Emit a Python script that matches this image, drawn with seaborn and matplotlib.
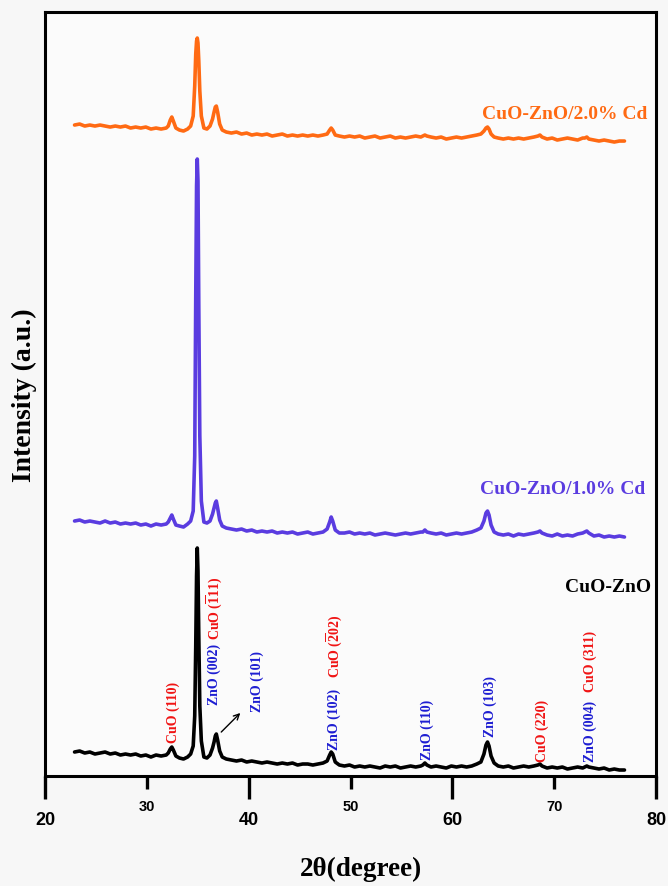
import numpy as np
import pandas as pd
import seaborn as sns
import matplotlib
matplotlib.use("Agg")
import matplotlib.pyplot as plt
import matplotlib.transforms as mtransforms

# 2theta grid shared by the three patterns
two_theta = [
    22.9, 23.4, 23.9, 24.4, 24.9, 25.4, 25.9, 26.4, 26.9, 27.4, 27.9, 28.4, 28.9, 29.4, 29.9, 30.4, 30.9, 31.4, 31.9,
    32.1, 32.3, 32.45, 32.6, 32.85, 33.2, 33.6, 34.0, 34.3, 34.55,
    34.7, 34.8, 34.88, 34.95, 35.02, 35.1, 35.2, 35.35, 35.6, 35.9, 36.2, 36.45,
    36.6, 36.72, 36.82, 36.95, 37.15, 37.4, 37.8,
    38.3, 38.8, 39.3, 39.8, 40.3, 40.8, 41.3, 41.8, 42.3, 42.8, 43.3, 43.8, 44.3, 44.8, 45.3, 45.8, 46.3, 46.8, 47.3,
    47.7, 47.95, 48.1, 48.25, 48.5, 48.9,
    49.4, 49.9, 50.4, 50.9, 51.4, 51.9, 52.4, 52.9, 53.4, 53.9, 54.4, 54.9, 55.4, 55.9, 56.4, 56.9,
    57.1, 57.3, 57.5,
    57.9, 58.4, 58.9, 59.4, 59.9, 60.4, 60.9, 61.4, 61.9, 62.4,
    62.8, 63.1, 63.3, 63.45, 63.6, 63.8, 64.1, 64.5,
    65.0, 65.5, 66.0, 66.5, 67.0, 67.5, 68.0,
    68.4, 68.6, 68.8,
    69.3, 69.8, 70.3, 70.8, 71.3, 71.8, 72.3, 72.8,
    73.0, 73.2, 73.4,
    73.9, 74.4, 74.9, 75.4, 75.9, 76.4, 76.9,
]

# CuO-ZnO
i_cuzn = [
    24, 25, 23, 24, 22, 23, 24, 22, 23, 21, 22, 21, 22, 20, 21, 19, 21, 20, 21,
    23, 27, 29, 26, 20, 18, 17, 19, 22, 30,
    60, 130, 200, 228, 205, 140, 70, 35, 19, 18, 21, 28,
    34, 40, 42, 36, 25, 19, 17,
    16, 15, 16, 14, 15, 14, 13, 14, 13, 12, 13, 12, 13, 11, 12, 12, 11, 12, 13,
    15, 21, 24, 22, 14, 11,
    10, 11, 9, 10, 9, 10, 9, 8, 10, 9, 10, 8, 9, 10, 9, 10,
    11, 13, 11,
    9, 10, 9, 8, 10, 9, 10, 9, 10, 12,
    14, 22, 31, 34, 30, 20, 13, 10,
    9, 10, 8, 9, 10, 9, 10,
    11, 12, 10,
    8, 9, 8, 9, 7, 8, 9, 8,
    9, 10, 9,
    8, 7, 8, 6, 7, 6, 6,
]

# CuO-ZnO/1.0% Cd
i_cd1 = [
    255, 256, 254, 255, 254, 253, 255, 253, 254, 252, 253, 252, 253, 251, 252, 250, 252, 251, 252,
    254, 258, 261, 257, 251, 250, 249, 252, 255, 265,
    320, 480, 590, 617, 595, 470, 340, 275, 254, 253, 255, 262,
    268, 273, 275, 268, 256, 250, 248,
    247, 246, 247, 245, 246, 244, 245, 244, 245, 243, 244, 243, 244, 242, 243, 244, 242, 243, 244,
    247, 254, 259, 255, 246, 243,
    243, 244, 242, 243, 242, 243, 241, 242, 243, 242, 241, 242, 243, 242, 243, 244,
    244, 246, 244,
    243, 242, 243, 241, 242, 243, 242, 243, 244, 246,
    248, 255, 263, 265, 261, 251, 244, 242,
    241, 242, 240, 242, 241, 242, 243,
    244, 245, 243,
    241, 240, 242, 240, 241, 240, 242, 243,
    244, 245, 243,
    240, 241, 239, 240, 239, 240, 239,
]

# CuO-ZnO/2.0% Cd
i_cd2 = [
    651, 652, 650, 651, 650, 651, 650, 649, 650, 649, 650, 648, 649, 648, 649, 647, 648, 647, 648,
    650, 656, 659, 655, 648, 646, 645, 647, 650, 660,
    690, 722, 735, 738, 733, 715, 685, 660, 648, 647, 650, 657,
    664, 669, 670, 664, 652, 646, 644,
    643, 644, 642, 643, 641, 642, 641, 642, 640, 641, 642, 640, 641, 640, 641, 640, 641, 640, 641,
    642, 646, 648, 646, 641, 640,
    639, 640, 639, 640, 638, 639, 640, 638, 639, 640, 638, 639, 638, 639, 640, 639,
    640, 641, 640,
    639, 638, 639, 637, 638, 639, 638, 639, 640, 641,
    642, 645, 648, 649, 647, 642, 639, 638,
    637, 638, 637, 638, 637, 638, 639,
    640, 641, 639,
    637, 638, 636, 637, 638, 637, 636, 638,
    638, 639, 637,
    636, 635, 636, 635, 634, 635, 635,
]

samples = ["CuO-ZnO", "CuO-ZnO/1.0% Cd", "CuO-ZnO/2.0% Cd"]
colors = {"CuO-ZnO": "#000000", "CuO-ZnO/1.0% Cd": "#5a3ce0", "CuO-ZnO/2.0% Cd": "#ff6a13"}

major_ticks = [20, 40, 60, 80]
minor_ticks = [30, 50, 70]

# peak labels: text, 2theta, bottom of text (intensity units), colour
red = "#f01414"
blue = "#1e1ed2"
peak_labels = [
    ("CuO (110)", 32.6, 34, red),
    ("ZnO (002)", 36.6, 72, blue),
    (r"CuO ($\mathbf{\overline{1}}$11)", 36.6, 137, red),
    ("ZnO (101)", 40.85, 65, blue),
    ("ZnO (102)", 48.4, 27, blue),
    (r"CuO ($\mathbf{\overline{2}}$02)", 48.4, 99, red),
    ("ZnO (110)", 57.55, 17, blue),
    ("ZnO (103)", 63.75, 40, blue),
    ("CuO (220)", 68.85, 15, red),
    ("ZnO (004)", 73.5, 15, blue),
    ("CuO (311)", 73.5, 85, red),
]

df = pd.DataFrame({
    "two_theta": two_theta * 3,
    "intensity": i_cuzn + i_cd1 + i_cd2,
    "sample": [samples[0]] * len(two_theta) + [samples[1]] * len(two_theta) + [samples[2]] * len(two_theta),
})

sns.set_style("white")
plt.rcParams["font.family"] = ["Liberation Serif", "DejaVu Serif"]
plt.rcParams["mathtext.fontset"] = "custom"
plt.rcParams["mathtext.rm"] = "Liberation Serif"
plt.rcParams["mathtext.bf"] = "Liberation Serif:bold"
plt.rcParams["text.color"] = "black"
plt.rcParams["axes.labelcolor"] = "black"
plt.rcParams["xtick.color"] = "black"

fig = plt.figure(figsize=(6.68, 8.87), dpi=100)
fig.patch.set_facecolor("#f7f7f7")
ax = fig.add_axes([0.0674, 0.124, 0.9147, 0.8613])
ax.set_facecolor("#fbfbfb")

sns.lineplot(data=df, x="two_theta", y="intensity", hue="sample", palette=colors,
             legend=False, lw=2.6, ax=ax)

ax.set_xlim(20, 80)
ax.set_ylim(0, 764)
ax.set_yticks([])

ax.set_xticks(major_ticks)
ax.set_xticklabels([str(t) for t in major_ticks], fontfamily="Liberation Sans", fontweight="bold", fontsize=13)
ax.set_xticks(minor_ticks, minor=True)
ax.set_xticklabels([str(t) for t in minor_ticks], minor=True, fontfamily="Liberation Sans", fontweight="bold", fontsize=10.5)
ax.tick_params(axis="x", which="major", length=17, width=0, pad=8, labelcolor="black")
ax.tick_params(axis="x", which="minor", length=9.5, width=0, pad=7, labelcolor="black")

# tick marks drawn below the spine (x in data, y in axes fraction)
trans = mtransforms.blended_transform_factory(ax.transData, ax.transAxes)
for t in major_ticks:
    ax.plot([t, t], [0, -0.0305], transform=trans, color="black", lw=2.4,
            clip_on=False, solid_capstyle="butt")
for t in minor_ticks:
    ax.plot([t, t], [0, -0.0175], transform=trans, color="black", lw=2.4,
            clip_on=False, solid_capstyle="butt")

for s in ax.spines.values():
    s.set_visible(True)
    s.set_linewidth(2.2)
    s.set_color("black")

ax.set_xlabel("2θ(degree)", fontsize=19.5, fontweight="bold")
ax.xaxis.set_label_coords(0.517, -0.104)
ax.set_ylabel("Intensity (a.u.)", fontsize=20, fontweight="bold", labelpad=6)

for txt, xx, yy, c in peak_labels:
    ax.text(xx, yy, txt, rotation=90, ha="center", va="bottom", color=c,
            fontsize=10, fontweight="bold")

ax.annotate("", xy=(39.37, 65), xytext=(37.11, 42),
            arrowprops=dict(arrowstyle="->", color="black", lw=1))

ax.text(62.95, 663, "CuO-ZnO/2.0% Cd", color=colors[samples[2]], fontsize=14,
        fontweight="bold", ha="left", va="center")
ax.text(62.75, 288, "CuO-ZnO/1.0% Cd", color=colors[samples[1]], fontsize=14,
        fontweight="bold", ha="left", va="center")
ax.text(71.1, 190, "CuO-ZnO", color="black", fontsize=14,
        fontweight="bold", ha="left", va="center")

fig.savefig("out.png", dpi=100, facecolor=fig.get_facecolor())
